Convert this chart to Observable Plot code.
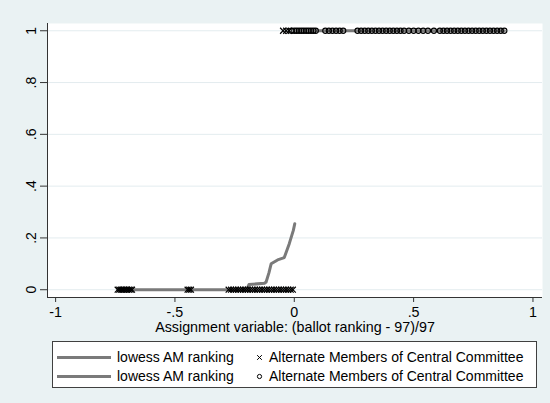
<!DOCTYPE html>
<html><head><meta charset="utf-8">
<script src="https://cdn.jsdelivr.net/npm/d3@7"></script>
<script src="https://cdn.jsdelivr.net/npm/@observablehq/plot@0.6"></script>
<style>
html,body{margin:0;padding:0;background:#eaf2f3;}
#wrap{position:relative;width:550px;height:403px;background:#eaf2f3;overflow:hidden;font-family:"Liberation Sans",Arial,sans-serif;}
#chart{position:absolute;left:0;top:0;}
#legend{position:absolute;left:52px;top:341px;width:485px;height:47px;background:#fff;border:1px solid #404040;box-sizing:border-box;font-size:14px;color:#000;}
.row{position:absolute;left:0;width:100%;height:19px;}
.sw{position:absolute;left:4px;width:54px;height:3px;background:#7a7a7a;top:8px;}
.lab1{position:absolute;left:64px;top:1px;white-space:nowrap;}
.mk{position:absolute;left:202px;top:5px;}
.lab2{position:absolute;left:216px;top:1px;white-space:nowrap;}
</style>
</head><body>
<div id="wrap"><div id="chart"></div><div id="legend"></div></div>
<script>
// ---- data ----
const xTicks = [-1, -0.5, 0, 0.5, 1];
const xTickLabels = ["-1", "-.5", "0", ".5", "1"];
const yTicks = [0, 0.2, 0.4, 0.6, 0.8, 1];
const yTickLabels = ["0", ".2", ".4", ".6", ".8", "1"];
const xTitle = "Assignment variable: (ballot ranking - 97)/97";
const xDomain = [-1.034, 1.04];
const yDomain = [-0.03, 1.028];

// lowess AM ranking (left of threshold)
const lowessLeftX = [-0.74, -0.2, -0.19, -0.125, -0.118, -0.106, -0.097, -0.07, -0.042, -0.021, -0.004, 0.002];
const lowessLeftY = [0, 0, 0.02, 0.025, 0.03, 0.066, 0.10, 0.115, 0.124, 0.178, 0.229, 0.255];
// lowess AM ranking (right of threshold)
const lowessRightX = [0.0, 0.88];
const lowessRightY = [1, 1];

// Alternate Members (x markers)
const crossX = [-0.74, -0.733, -0.726, -0.72, -0.714, -0.707, -0.70, -0.693, -0.686, -0.68,
  -0.447, -0.44, -0.433,
  -0.275, -0.265, -0.255, -0.245, -0.235, -0.225, -0.215, -0.205, -0.195, -0.185, -0.175, -0.165, -0.155, -0.145,
  -0.135, -0.125, -0.115, -0.105, -0.095, -0.085, -0.075, -0.065, -0.055, -0.045, -0.035, -0.025, -0.015, -0.006,
  -0.047, -0.034, -0.021];
const crossY = [0, 0, 0, 0, 0, 0, 0, 0, 0, 0,
  0, 0, 0,
  0, 0, 0, 0, 0, 0, 0, 0, 0, 0, 0, 0, 0, 0,
  0, 0, 0, 0, 0, 0, 0, 0, 0, 0, 0, 0, 0, 0,
  1, 1, 1];
// Alternate Members (o markers)
const circleX = [-0.012, 0.0, 0.01, 0.02, 0.03, 0.04, 0.05, 0.06, 0.07, 0.08, 0.09,
  0.13, 0.145, 0.16, 0.175, 0.19, 0.205,
  0.265, 0.28, 0.295, 0.31, 0.325, 0.34, 0.355, 0.37, 0.385, 0.40, 0.415, 0.43, 0.445,
  0.46, 0.48, 0.50, 0.52, 0.54, 0.56, 0.585,
  0.61, 0.625, 0.64, 0.655, 0.67, 0.685, 0.70, 0.715, 0.73, 0.745, 0.76, 0.775, 0.79, 0.805, 0.82, 0.835, 0.85, 0.865, 0.88];
const circleY = circleX.map(() => 1);

const legendLineLabels = ["lowess AM ranking", "lowess AM ranking"];
const legendMarkerLabels = ["Alternate Members of Central Committee", "Alternate Members of Central Committee"];
const legendSymbols = ["times", "circle"];

// ---- build ----
const crosses = crossX.map((x, i) => ({x, y: crossY[i]}));
const circles = circleX.map((x, i) => ({x, y: circleY[i]}));
const lowL = lowessLeftX.map((x, i) => ({x, y: lowessLeftY[i]}));
const lowR = lowessRightX.map((x, i) => ({x, y: lowessRightY[i]}));

const lineColor = "#7a7a7a";
const chart = Plot.plot({
  width: 550, height: 340,
  marginLeft: 47, marginRight: 8, marginTop: 23, marginBottom: 43,
  style: {background: "transparent", fontFamily: "'Liberation Sans', Arial, sans-serif", fontSize: "14px", color: "#000"},
  x: {domain: xDomain},
  y: {domain: yDomain},
  marks: [
    Plot.frame({fill: "white", stroke: "none"}),
    Plot.gridY(yTicks, {stroke: "#e3ecef", strokeOpacity: 1}),
    Plot.ruleX([xDomain[0]], {stroke: "#333"}),
    Plot.ruleY([yDomain[0]], {stroke: "#333"}),
    Plot.axisX(xTicks, {anchor: "bottom", tickSize: 5, tickPadding: 4, stroke: "#333",
      tickFormat: d => xTickLabels[xTicks.indexOf(d)],
      label: xTitle, labelAnchor: "center", labelOffset: 34, labelArrow: "none", fontSize: 14.3}),
    Plot.axisY(yTicks, {anchor: "left", tickSize: 7, tickPadding: 5, tickRotate: -90, stroke: "#333",
      tickFormat: d => yTickLabels[yTicks.indexOf(d)], label: null, fontSize: 14}),
    Plot.line(lowL, {x: "x", y: "y", stroke: lineColor, strokeWidth: 3}),
    Plot.line(lowR, {x: "x", y: "y", stroke: lineColor, strokeWidth: 3}),
    Plot.dot(crosses, {x: "x", y: "y", symbol: "times", r: 2.8, stroke: "black", strokeWidth: 1.2}),
    Plot.dot(circles, {x: "x", y: "y", symbol: "circle", r: 2.6, stroke: "black", fill: "none", strokeWidth: 1.1})
  ]
});
document.getElementById("chart").appendChild(chart);

// legend
const leg = d3.select("#legend");
legendLineLabels.forEach((lab, i) => {
  const row = leg.append("div").attr("class", "row").style("top", (6 + i * 19) + "px");
  row.append("div").attr("class", "sw");
  row.append("span").attr("class", "lab1").text(lab);
  const svg = row.append("svg").attr("class", "mk").attr("width", 9).attr("height", 9);
  const sym = legendSymbols[i] === "times" ? d3.symbolTimes : d3.symbolCircle;
  svg.append("path").attr("transform", "translate(4.5,4.5)")
    .attr("d", d3.symbol(sym, legendSymbols[i] === "times" ? 16 : 14)())
    .attr("fill", "none").attr("stroke", "black").attr("stroke-width", 1);
  row.append("span").attr("class", "lab2").text(legendMarkerLabels[i]);
});
</script>
</body></html>
